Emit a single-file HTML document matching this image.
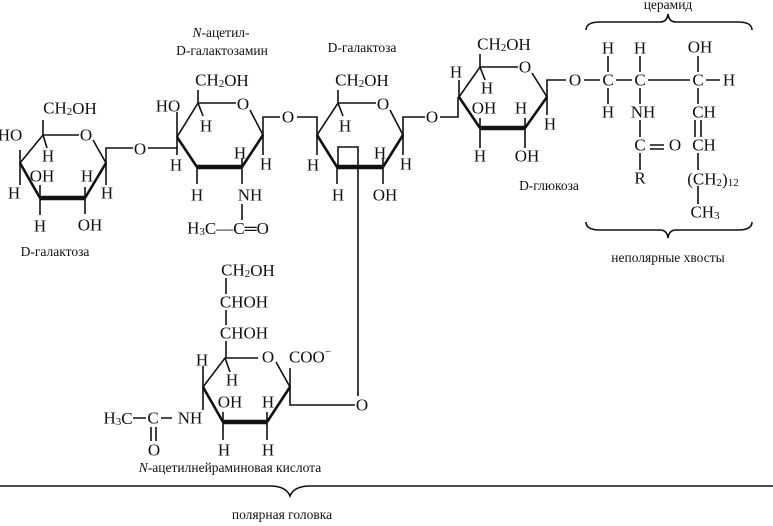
<!DOCTYPE html>
<html><head><meta charset="utf-8"><style>
html,body{margin:0;padding:0;background:#fff;}
svg{display:block;}
text{font-family:"Liberation Serif",serif;fill:#111;}
.a{font-size:17px;text-anchor:middle;dominant-baseline:central;}
.l{font-size:13.5px;text-anchor:middle;}
</style></head><body>
<svg width="773" height="526" viewBox="0 0 773 526" xmlns="http://www.w3.org/2000/svg">
<g stroke="#111" fill="none" stroke-width="1.6">
<!-- Ring 1 -->
<path d="M79,135 L43,135 L20,163 L40,198"/>
<path d="M93,140 L106,163 L85,198"/>
<path d="M40,198 L85,198" stroke-width="4.5"/>
<path d="M20,163 L40,198 M85,198 L106,163" stroke-width="2.6"/>
<path d="M43,135 L43,120 M43,135 L47,148 M20,163 L20,150 M20,163 L20,185 M106,163 L106,148 L133,148 M106,163 L106,185 M40,198 L40,215 M85,198 L85,214 M40,198 L40,185 M85,198 L85,187"/>
<path d="M148,148 L178,148"/>
<!-- Ring 2 -->
<path d="M236,103 L198,103 L177,137 L197,167"/>
<path d="M250,110 L263,135 L242,167"/>
<path d="M197,167 L242,167" stroke-width="4.5"/>
<path d="M177,137 L197,167 M242,167 L263,135" stroke-width="2.6"/>
<path d="M198,103 L198,90 M198,103 L203,116 M177,137 L177,112 M177,137 L177,155 M263,135 L263,117 L280,117 M263,135 L263,155 M242,167 L242,158 M197,167 L197,184 M242,167 L242,184 M242,204 L242,220"/>
<path d="M297,117 L317,117 L317,135"/>
<!-- Ring 3 -->
<path d="M376,103 L338,103 L317,135 L337,167"/>
<path d="M390,110 L403,135 L383,167"/>
<path d="M337,167 L383,167" stroke-width="4.5"/>
<path d="M317,135 L337,167 M383,167 L403,135" stroke-width="2.6"/>
<path d="M338,103 L338,90 M338,103 L343,116 M317,135 L317,155 M403,135 L403,117 L425,117 M403,135 L403,155 M383,167 L383,158 M337,167 L337,184 M383,167 L383,184"/>
<path d="M338,167 L338,147 L358,147 L358,396"/>
<path d="M440,117 L458,117 L458,97"/>
<!-- Ring 4 -->
<path d="M518,67 L480,67 L459,97 L480,128"/>
<path d="M532,73 L547,97 L525,128"/>
<path d="M480,128 L525,128" stroke-width="4.5"/>
<path d="M459,97 L480,128 M525,128 L547,97" stroke-width="2.6"/>
<path d="M480,67 L480,54 M480,67 L485,80 M459,97 L459,80 M547,97 L547,80 L566,80 M547,97 L547,115 M480,128 L480,148 M525,128 L525,148 M480,128 L480,118 M525,128 L525,118"/>
<!-- ceramide -->
<path d="M584,80 L600,80 M616,80 L632,80 M648,80 L690,80 M706,80 L720,80 M608,56 L608,72 M608,88 L608,104 M640,56 L640,72 M640,88 L640,104 M640,120 L640,137 M640,153 L640,170 M650,145 L664,145 M650,149 L664,149 M698,56 L698,72 M698,88 L698,104 M695,120 L695,137 M701,120 L701,137 M698,153 L698,170 M698,186 L698,204"/>
<path d="M586,30 Q586,22 600,22 L660,22 Q667,22 668,14 Q669,22 676,22 L738,22 Q752,22 752,30"/>
<path d="M586,222 Q586,230 600,230 L660,230 Q667,230 668,238 Q669,230 676,230 L738,230 Q752,230 752,222"/>
<!-- sialic -->
<path d="M226,278 L226,294 M226,310 L226,325 M226,341 L226,358"/>
<path d="M258,358 L225,358 L203,387 L223,422"/>
<path d="M276,362 L290,387 L267,422"/>
<path d="M223,422 L267,422" stroke-width="4.5"/>
<path d="M203,387 L223,422 M267,422 L290,387" stroke-width="2.6"/>
<path d="M225,358 L230,372 M203,387 L203,366 M203,387 L203,410 M290,387 L290,368 M290,387 L290,405 L355,405 M223,422 L223,412 M267,422 L267,412 M223,422 L223,440 M267,422 L267,440"/>
<path d="M133,418 L146,418 M161,418 L172,418 M151,427 L151,441 M156,427 L156,441"/>
<path d="M0,486 L270,486 Q286,486 290,496 Q294,486 310,486 L773,486"/>
</g>
<g>
<text class="a" x="70" y="108">CH<tspan font-size="11" dy="4">2</tspan><tspan dy="-4">OH</tspan></text>
<text class="a" x="86" y="135">O</text>
<text class="a" x="10" y="135">HO</text>
<text class="a" x="48" y="156">H</text>
<text class="a" x="42" y="176">OH</text>
<text class="a" x="87" y="176">H</text>
<text class="a" x="107" y="193">H</text>
<text class="a" x="14" y="193">H</text>
<text class="a" x="40" y="226">H</text>
<text class="a" x="90" y="225">OH</text>
<text class="a" x="140" y="149">O</text>
<text class="l" x="55" y="256">D-галактоза</text>

<text class="l" x="221" y="37"><tspan font-style="italic">N</tspan>-ацетил-</text>
<text class="l" x="222" y="55">D-галактозамин</text>
<text class="a" x="222" y="80">CH<tspan font-size="11" dy="4">2</tspan><tspan dy="-4">OH</tspan></text>
<text class="a" x="243" y="104">O</text>
<text class="a" x="168" y="106">HO</text>
<text class="a" x="206" y="126">H</text>
<text class="a" x="240" y="153">H</text>
<text class="a" x="266" y="164">H</text>
<text class="a" x="176" y="165">H</text>
<text class="a" x="197" y="195">H</text>
<text class="a" x="250" y="195">NH</text>
<text class="a" x="228" y="228">H<tspan font-size="11" dy="4">3</tspan><tspan dy="-4">C—C═O</tspan></text>
<text class="a" x="288" y="117">O</text>

<text class="l" x="362" y="52">D-галактоза</text>
<text class="a" x="362" y="80">CH<tspan font-size="11" dy="4">2</tspan><tspan dy="-4">OH</tspan></text>
<text class="a" x="383" y="104">O</text>
<text class="a" x="345" y="126">H</text>
<text class="a" x="380" y="153">H</text>
<text class="a" x="406" y="164">H</text>
<text class="a" x="313" y="165">H</text>
<text class="a" x="338" y="195">H</text>
<text class="a" x="385" y="195">OH</text>
<text class="a" x="432" y="117">O</text>

<text class="a" x="504" y="44">CH<tspan font-size="11" dy="4">2</tspan><tspan dy="-4">OH</tspan></text>
<text class="a" x="525" y="67">O</text>
<text class="a" x="456" y="72">H</text>
<text class="a" x="487" y="88">H</text>
<text class="a" x="484" y="108">OH</text>
<text class="a" x="521" y="108">H</text>
<text class="a" x="550" y="124">H</text>
<text class="a" x="480" y="156">H</text>
<text class="a" x="527" y="156">OH</text>
<text class="l" x="549" y="190">D-глюкоза</text>

<text class="l" x="668" y="9">церамид</text>
<text class="a" x="575" y="80">O</text>
<text class="a" x="608" y="80">C</text>
<text class="a" x="640" y="80">C</text>
<text class="a" x="698" y="80">C</text>
<text class="a" x="729" y="80">H</text>
<text class="a" x="608" y="48">H</text>
<text class="a" x="640" y="48">H</text>
<text class="a" x="700" y="47">OH</text>
<text class="a" x="608" y="112">H</text>
<text class="a" x="643" y="112">NH</text>
<text class="a" x="704" y="112">CH</text>
<text class="a" x="640" y="145">C</text>
<text class="a" x="675" y="145">O</text>
<text class="a" x="704" y="145">CH</text>
<text class="a" x="640" y="178">R</text>
<text class="a" x="713" y="179">(CH<tspan font-size="11" dy="4">2</tspan><tspan dy="-4">)</tspan><tspan font-size="11" dy="4">12</tspan></text>
<text class="a" x="705" y="212">CH<tspan font-size="11" dy="4">3</tspan></text>
<text class="l" x="668" y="262">неполярные хвосты</text>

<text class="a" x="248" y="270">CH<tspan font-size="11" dy="4">2</tspan><tspan dy="-4">OH</tspan></text>
<text class="a" x="244" y="302">CHOH</text>
<text class="a" x="244" y="333">CHOH</text>
<text class="a" x="268" y="357">O</text>
<text class="a" x="310" y="357">COO<tspan font-size="11" dy="-5">−</tspan></text>
<text class="a" x="202" y="360">H</text>
<text class="a" x="232" y="380">H</text>
<text class="a" x="230" y="402">OH</text>
<text class="a" x="268" y="402">H</text>
<text class="a" x="118" y="418">H<tspan font-size="11" dy="4">3</tspan><tspan dy="-4">C</tspan></text>
<text class="a" x="153" y="418">C</text>
<text class="a" x="190" y="418">NH</text>
<text class="a" x="154" y="450">O</text>
<text class="a" x="224" y="450">H</text>
<text class="a" x="268" y="450">H</text>
<text class="a" x="362" y="405">O</text>
<text class="l" x="230" y="472"><tspan font-style="italic">N</tspan>-ацетилнейраминовая кислота</text>
<text class="l" x="282" y="519">полярная головка</text>
</g>
</svg>
</body></html>
